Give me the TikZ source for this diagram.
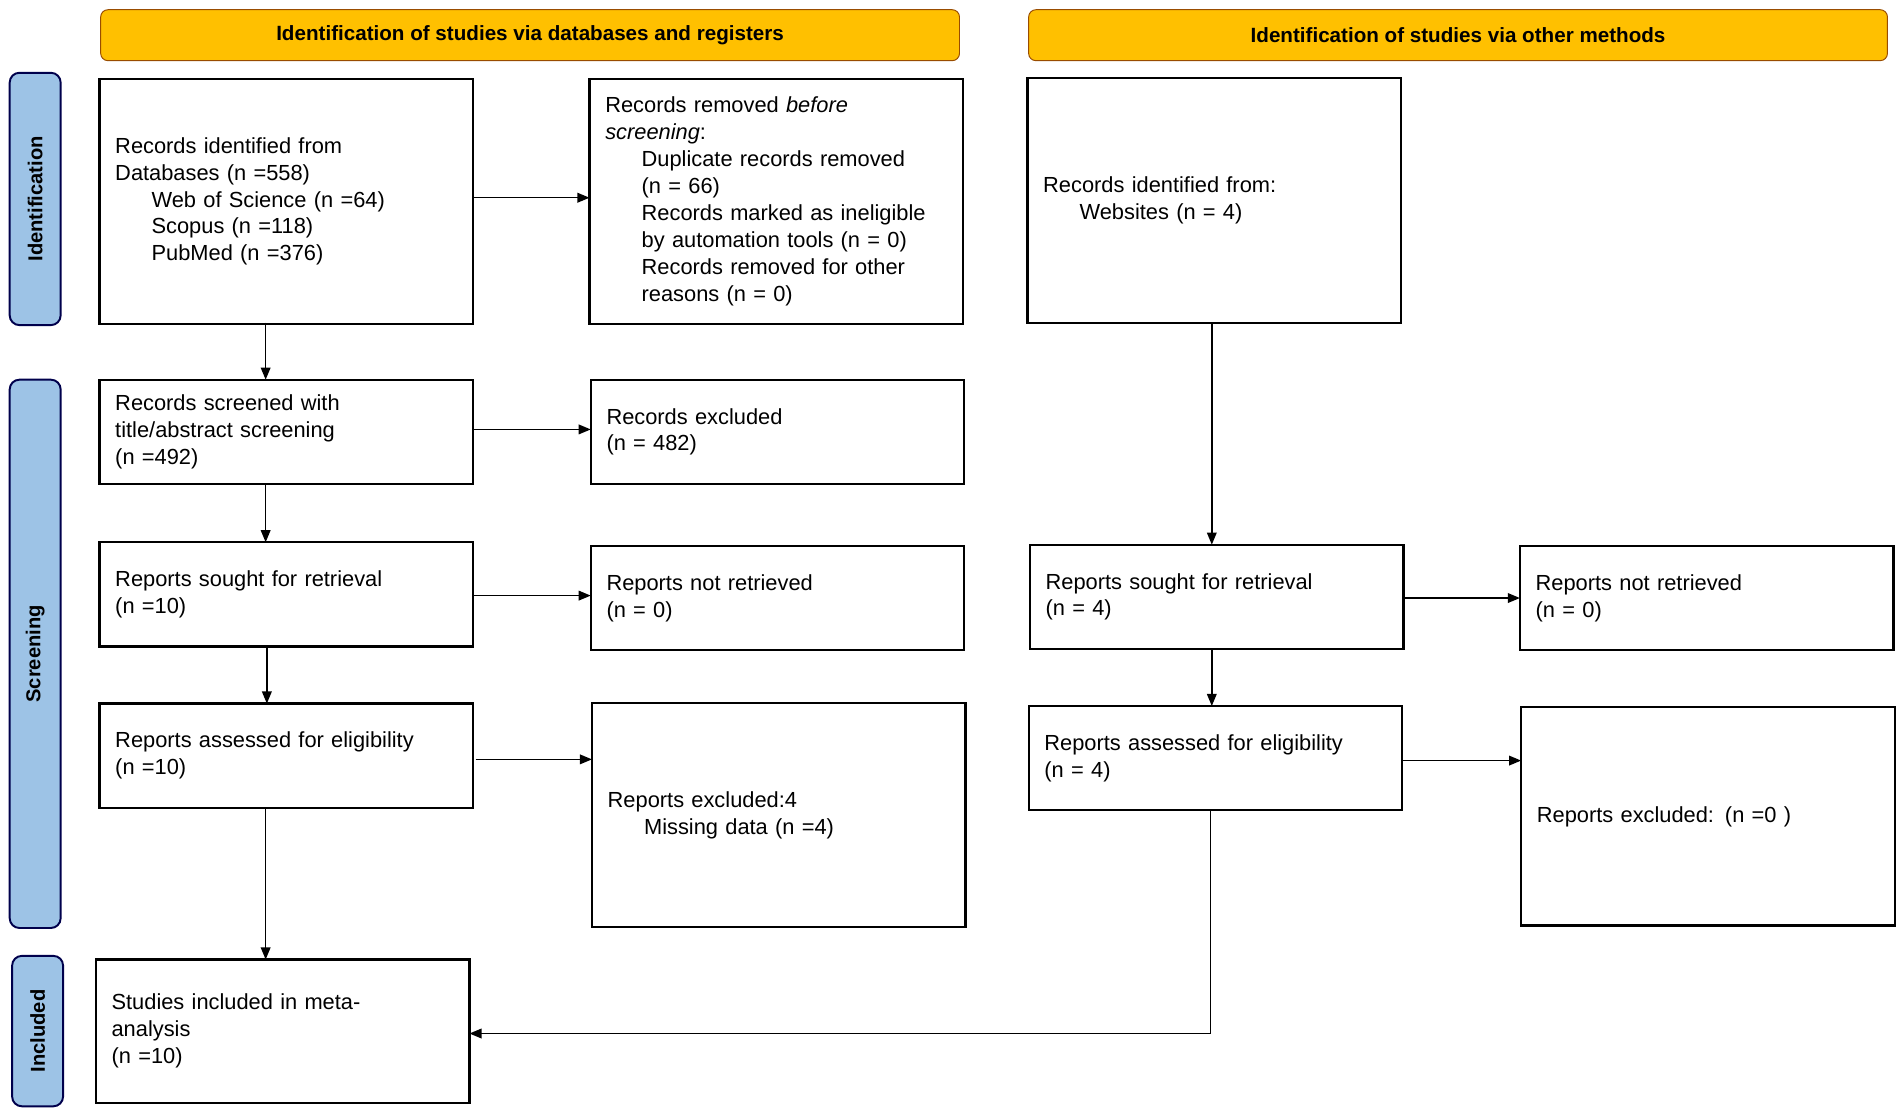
\documentclass[tikz,border=0pt]{standalone}
\usepackage{fontspec}
\setmainfont{Liberation Sans}
\usetikzlibrary{arrows.meta}
\begin{document}
\begin{tikzpicture}[x=0.5pt,y=-0.5pt,
 box/.style={draw,line width=0.9pt,rectangle,minimum width=154pt,text width=141pt,inner xsep=6.5pt,align=left,font=\fontsize{9}{11.1}\selectfont},
 head/.style={draw=black!40!orange,fill={rgb,255:red,255;green,192;blue,0},rounded corners=3pt,minimum width=354pt,minimum height=21pt,font=\bfseries\fontsize{8.5}{10}\selectfont},
 side/.style={draw=black!70!blue,line width=0.8pt,fill={rgb,255:red,157;green,195;blue,230},rounded corners=4pt,minimum width=21pt,font=\bfseries\fontsize{8.3}{10}\selectfont},
 arr/.style={-{Triangle[length=5pt,width=4pt]},line width=0.6pt}]
\useasboundingbox (0,0) rectangle (1568,918);
\node[head] (h1) at (437,29) {Identification of studies via databases and registers};
\node[head] (h2) at (1202,29) {Identification of studies via other methods};
\node[side,minimum height=104pt] (s1) at (29,164) {};
\node[rotate=90,font=\bfseries\fontsize{8.3}{10}\selectfont] (s1t) at (29,164) {Identification};
\node[side,minimum height=226pt] (s2) at (29,539) {};
\node[rotate=90,font=\bfseries\fontsize{8.3}{10}\selectfont] (s2t) at (29,539) {Screening};
\node[side,minimum height=62pt] (s3) at (31,850) {};
\node[rotate=90,font=\bfseries\fontsize{8.3}{10}\selectfont] (s3t) at (31,850) {Included};
\def\ind{\hspace*{15pt}}
\node[box,minimum height=101pt] (a1) at (236,166) {Records identified from\\Databases (n =558)\\\ind Web of Science (n =64)\\\ind Scopus (n =118)\\\ind PubMed (n =376)};
\node[box,minimum height=101pt] (a2) at (640,166) {Records removed \textit{before}\\\textit{screening}:\\\ind Duplicate records removed\\\ind (n = 66)\\\ind Records marked as ineligible\\\ind by automation tools (n = 0)\\\ind Records removed for other\\\ind reasons (n = 0)};
\node[box,minimum height=101pt] (a3) at (1001,165) {Records identified from:\\\ind Websites (n = 4)\\[22pt]};
\node[box,minimum height=43pt] (b1) at (236,356) {Records screened with\\title/abstract screening\\(n =492)};
\node[box,minimum height=43pt] (b2) at (641,356) {Records excluded\\(n = 482)};
\node[box,minimum height=43pt] (c1) at (236,490) {Reports sought for retrieval\\(n =10)};
\node[box,minimum height=43pt] (c2) at (641,493) {Reports not retrieved\\(n = 0)};
\node[box,minimum height=43pt] (c3) at (1003,492) {Reports sought for retrieval\\(n = 4)};
\node[box,minimum height=43pt] (c4) at (1407,493) {Reports not retrieved\\(n = 0)};
\node[box,minimum height=43pt] (d1) at (236,623) {Reports assessed for eligibility\\(n =10)};
\node[box,minimum height=92.5pt] (d2) at (642,672) {Reports excluded:4\\\ind Missing data (n =4)};
\node[box,minimum height=43pt] (d3) at (1002,625) {Reports assessed for eligibility\\(n = 4)};
\node[box,minimum height=90pt] (d4) at (1408,673) {Reports excluded: (n =0 )};
\node[box,minimum height=59pt] (e1) at (233,850) {Studies included in meta-\\analysis\\(n =10)};
\draw[arr] (219,266) -- (219,313);
\draw[arr] (219,399) -- (219,447);
\draw[arr] (220,533) -- (220,580);
\draw[arr] (219,666) -- (219,791);
\draw[arr] (390,163) -- (486,163);
\draw[arr] (390,354) -- (487,354);
\draw[arr] (390,491) -- (487,491);
\draw[arr] (392,626) -- (488,626);
\draw[arr] (999,266) -- (999,449);
\draw[arr] (999,535) -- (999,582);
\draw[arr] (1157,493) -- (1253,493);
\draw[arr] (1156,627) -- (1254,627);
\draw[arr,line width=0.5pt] (998,668) -- (998,852) -- (387,852);
\end{tikzpicture}
\end{document}
